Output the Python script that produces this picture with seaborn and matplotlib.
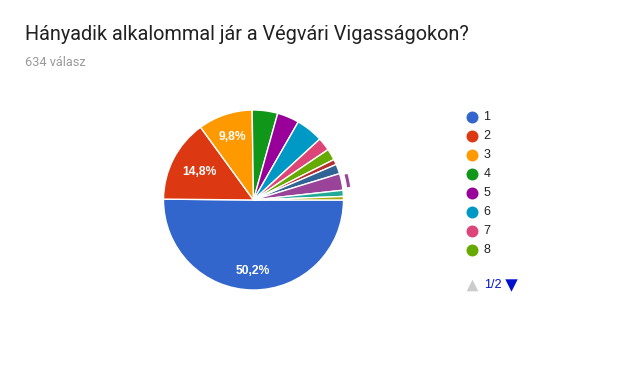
import matplotlib
matplotlib.use("Agg")
import numpy as np
import matplotlib.pyplot as plt
from matplotlib.patches import Arc
import seaborn as sns

categories = ["1", "2", "3", "4", "5", "6", "7", "8", "9", "10", "11", "12", "13"]
counts = [318, 94, 62, 29, 25, 31, 15, 13, 6, 11, 19, 7, 4]
colors = ["#3366cc", "#dc3912", "#ff9900", "#109618", "#990099", "#0099c6",
          "#dd4477", "#66aa00", "#b82e2e", "#316395", "#994499", "#22aa99", "#aaaa11"]
title = "Hányadik alkalommal jár a Végvári Vigasságokon?"
subtitle = "634 válasz"
legend_page = "1/2"
highlighted = 10  # index of hovered slice

sns.set_theme(style="white")
plt.rcParams["font.family"] = ["Liberation Sans", "DejaVu Sans"]

W, H = 639, 378
fig = plt.figure(figsize=(W / 100, H / 100), dpi=100)
ax = fig.add_axes([0, 0, 1, 1])

cx, cy, r = 253.5, H - 200, 90
wedges, texts, autotexts = ax.pie(
    counts, colors=colors, startangle=0, counterclock=False,
    center=(cx, cy), radius=r, frame=True,
    autopct=lambda p: (f"{p:.1f}%".replace(".", ",") if p > 5 else ""),
    pctdistance=0.72,
    wedgeprops=dict(edgecolor="white", linewidth=1.0),
    textprops=dict(color="white", fontsize=8.7, fontweight="bold"),
)
ax.set_xlim(0, W)
ax.set_ylim(0, H)
ax.set_aspect("equal")
ax.axis("off")

# label radial placement like the source renderer
label_dist = [0.79, 0.67, 0.74]
for i, d in enumerate(label_dist):
    wd = wedges[i]
    mid = np.deg2rad((wd.theta1 + wd.theta2) / 2)
    autotexts[i].set_position((cx + d * r * np.cos(mid), cy + d * r * np.sin(mid)))

# hover ring around highlighted slice
w = wedges[highlighted]
ax.add_patch(Arc((cx, cy), 2 * (r + 6), 2 * (r + 6), theta1=w.theta1 + 1.5,
                 theta2=w.theta2 - 1.5, color=colors[highlighted], lw=2.2))

fig.text(25 / W, 1 - 40 / H, title, fontsize=14.3, family=["Roboto", "DejaVu Sans"],
         color="#212121", va="baseline", ha="left")
fig.text(25 / W, 1 - 66.5 / H, subtitle, fontsize=9.2, family=["Roboto", "DejaVu Sans"],
         color="#9a9a9a", va="baseline", ha="left")

# legend (page 1)
ys = [116.7 + i * 19.05 for i in range(8)]
for i in range(8):
    ax.scatter([471.7], [H - ys[i]], s=74, color=colors[i], linewidths=0, zorder=5)
    ax.text(483.5, H - ys[i], categories[i], fontsize=9, color="#222222",
            va="center", ha="left")

py = H - 285
ax.scatter([471.7], [py], marker="^", s=70, color="#cccccc", linewidths=0)
ax.text(484, py, legend_page, fontsize=9, color="#0011cc", va="center", ha="left")
ax.scatter([511], [py], marker="v", s=80, color="#0011cc", linewidths=0)

fig.savefig("out.png", dpi=100, facecolor="white")
